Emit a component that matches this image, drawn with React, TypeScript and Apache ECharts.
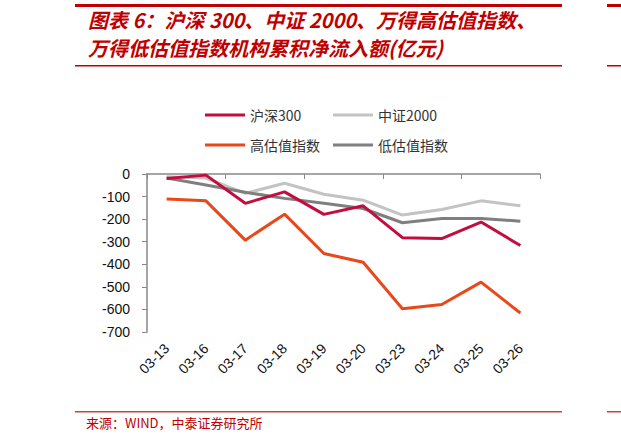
import React, { useEffect, useRef } from 'react'
import * as echarts from 'echarts'

const dates = ['03-13', '03-16', '03-17', '03-18', '03-19', '03-20', '03-23', '03-24', '03-25', '03-26']
const hs300 = [-20, -5, -130, -79, -179, -141, -282, -286, -213, -317]
const zz2000 = [-12, -18, -86, -41, -90, -116, -182, -157, -119, -141]
const highVal = [-111, -119, -293, -178, -352, -391, -597, -578, -479, -616]
const lowVal = [-18, -49, -81, -108, -130, -153, -216, -197, -197, -209]

const seriesNames = ['沪深300', '中证2000', '高估值指数', '低估值指数']
const seriesColors = ['#C20D3E', '#C3C3C3', '#E8481A', '#7F7F7F']

const RED = '#C00000'

const App: React.FC = () => {
  const chartRef = useRef<HTMLDivElement>(null)

  useEffect(() => {
    if (!chartRef.current) return
    const chart = echarts.init(chartRef.current, null, { renderer: 'svg' })

    const legendPos = [
      { left: 200, top: 103 },
      { left: 328, top: 103 },
      { left: 200, top: 133 },
      { left: 328, top: 133 }
    ]

    const option: echarts.EChartsOption = {
      animation: false,
      backgroundColor: '#fff',
      legend: seriesNames.map((name, i) => ({
        data: [name],
        left: legendPos[i].left,
        top: legendPos[i].top,
        icon: 'rect',
        itemWidth: 40,
        itemHeight: 3,
        itemGap: 5,
        textStyle: { fontSize: 14, color: '#333', fontFamily: 'Noto Sans CJK SC' }
      })),
      grid: { left: 147, right: 81, top: 174, bottom: 111 },
      xAxis: [
        {
          type: 'category',
          data: dates,
          position: 'top',
          boundaryGap: true,
          axisLine: { onZero: false, lineStyle: { color: '#888', width: 1.5 } },
          axisTick: { show: true, inside: true, length: 5, lineStyle: { color: '#888' } },
          axisLabel: { show: false },
          splitLine: { show: false }
        },
        {
          type: 'category',
          data: dates,
          position: 'bottom',
          boundaryGap: true,
          axisLine: { show: false, onZero: false },
          axisTick: { show: false },
          axisLabel: {
            rotate: 45,
            margin: 14,
            fontSize: 14,
            color: '#111',
            fontFamily: 'Liberation Sans'
          }
        }
      ],
      yAxis: {
        type: 'value',
        min: -700,
        max: 0,
        interval: 100,
        axisLine: { show: true, lineStyle: { color: '#888', width: 1.5 } },
        axisTick: { show: true, length: 5, lineStyle: { color: '#888' } },
        axisLabel: { fontSize: 14, color: '#111', margin: 17, fontFamily: 'Liberation Sans' },
        splitLine: { show: false }
      },
      series: [
        { name: seriesNames[2], data: highVal, color: seriesColors[2] },
        { name: seriesNames[1], data: zz2000, color: seriesColors[1] },
        { name: seriesNames[3], data: lowVal, color: seriesColors[3] },
        { name: seriesNames[0], data: hs300, color: seriesColors[0] }
      ].map(s => ({
        name: s.name,
        type: 'line' as const,
        xAxisIndex: 0,
        data: s.data,
        symbol: 'none',
        itemStyle: { color: s.color },
        lineStyle: { color: s.color, width: 3 }
      })),
      graphic: [
        { type: 'rect', shape: { x: 75, y: 4, width: 487, height: 3 }, style: { fill: RED } },
        { type: 'rect', shape: { x: 607, y: 4, width: 14, height: 3 }, style: { fill: RED } },
        {
          type: 'text',
          left: 88,
          top: 9,
          style: {
            text: '图表 6：沪深 300、中证 2000、万得高估值指数、',
            fill: RED,
            font: 'italic bold 20px "Noto Sans CJK SC"'
          }
        },
        {
          type: 'text',
          left: 88,
          top: 37,
          style: {
            text: '万得低估值指数机构累积净流入额(亿元)',
            fill: RED,
            font: 'italic bold 20px "Noto Sans CJK SC"'
          }
        },
        { type: 'rect', shape: { x: 75, y: 65, width: 487, height: 1.5 }, style: { fill: RED } },
        { type: 'rect', shape: { x: 607, y: 65, width: 14, height: 1.5 }, style: { fill: RED } },
        { type: 'rect', shape: { x: 75, y: 411, width: 487, height: 1.5 }, style: { fill: '#D0413F' } },
        { type: 'rect', shape: { x: 607, y: 411, width: 14, height: 1.5 }, style: { fill: '#D0413F' } },
        {
          type: 'text',
          left: 86,
          top: 416,
          style: {
            text: '来源：WIND，中泰证券研究所',
            fill: RED,
            font: '13px "Noto Sans CJK SC"'
          }
        }
      ]
    }

    chart.setOption(option)
    return () => {
      chart.dispose()
    }
  }, [])

  return (
    <div
      ref={chartRef}
      style={{ position: 'fixed', left: 0, top: 0, width: 621, height: 443 }}
    />
  )
}

export default App
